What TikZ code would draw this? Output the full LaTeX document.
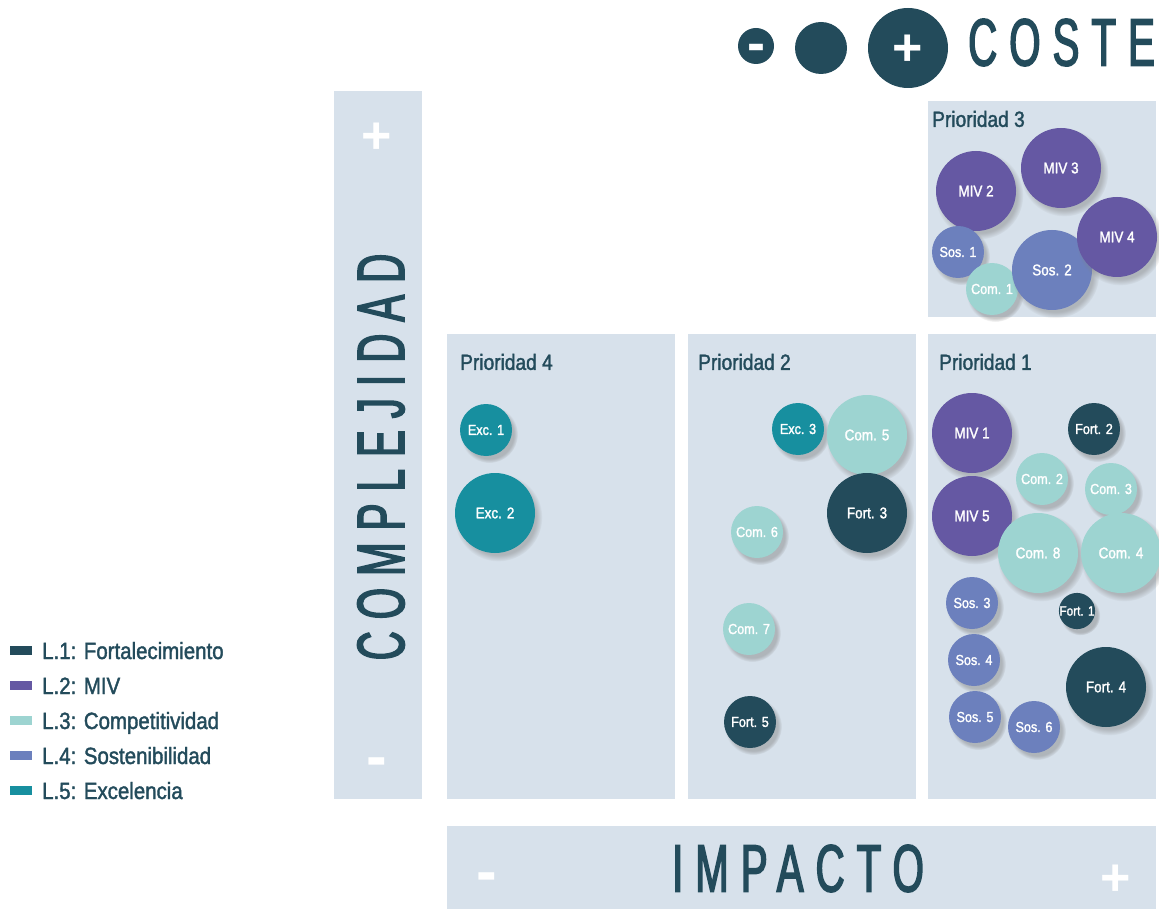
\documentclass[tikz,border=0pt]{standalone}
\usepackage{fontspec}
\setmainfont[FakeStretch=0.87, FakeBold=1.6]{Liberation Sans}
\newfontfamily\widefont[FakeStretch=0.6,LetterSpace=18,FakeBold=2.2]{Liberation Sans}
\newfontfamily\signfont{Liberation Sans Bold}
\usetikzlibrary{shadows}
\definecolor{cfort}{HTML}{234B5B}
\definecolor{cmiv}{HTML}{6558A3}
\definecolor{ccom}{HTML}{9DD4D1}
\definecolor{csos}{HTML}{6C80BD}
\definecolor{cexc}{HTML}{178F9F}
\definecolor{cpanel}{HTML}{D7E1EB}
\tikzset{
  panel/.style={fill=cpanel, draw=none},
  bub/.style={circle, inner sep=0pt, text=white, draw=none,
    circular drop shadow={shadow xshift=3pt, shadow yshift=-4pt, opacity=0.45}},
  big/.style={bub, minimum size=80pt, font=\fontsize{15.5}{15.5}\selectfont},
  mid/.style={bub, minimum size=52pt, font=\fontsize{14.5}{14.5}\selectfont},
  sml/.style={bub, minimum size=36pt, font=\fontsize{13.5}{13.5}\selectfont},
  plain/.style={circle, inner sep=0pt, draw=none, fill=cfort},
  fort/.style={fill=cfort}, miv/.style={fill=cmiv}, com/.style={fill=ccom},
  sos/.style={fill=csos}, exc/.style={fill=cexc},
  axislabel/.style={font=\widefont\fontsize{67}{67}\selectfont, text=cfort, inner sep=0pt},
  prio/.style={font=\fontsize{22}{22}\selectfont, text=cfort, inner sep=0pt, anchor=west},
  sign/.style={font=\signfont\fontsize{52}{52}\selectfont, text=white, inner sep=0pt},
  minus/.style={font=\signfont\fontsize{62}{62}\selectfont, text=white, inner sep=0pt},
  legtext/.style={font=\fontsize{23.5}{23.5}\selectfont, text=cfort, inner sep=0pt, anchor=base west},
  swatch/.style={minimum width=22pt, minimum height=9pt, inner sep=0pt, draw=none}
}
\begin{document}
\begin{tikzpicture}[x=1pt,y=-1pt]
\useasboundingbox (0,0) rectangle (1159,909);
% panels
\fill[panel] (334,91) rectangle (422,799);
\fill[panel] (447,334) rectangle (675,799);
\fill[panel] (688,334) rectangle (916,799);
\fill[panel] (928,334) rectangle (1156,799);
\fill[panel] (928,101) rectangle (1156,317);
\fill[panel] (447,826) rectangle (1156,909);
% axis labels
\node[axislabel, rotate=90] (complejidad) at (381,457) {COMPLEJIDAD};
\node[axislabel] (impacto) at (798,868.5) {IMPACTO};
\node[axislabel, anchor=west] (coste) at (968,42.5) {COSTE};
\node[sign] (cplus) at (377,138) {+};
\node[minus] (cminus) at (377,768) {-};
\node[minus] (iminus) at (487,883) {-};
\node[sign] (iplus) at (1116,880) {+};
% cost scale
\node[plain, minimum size=36pt] (c1) at (756,46) {};
\node[plain, minimum size=52pt] (c2) at (821,48) {};
\node[plain, minimum size=80pt] (c3) at (908,48) {};
\node[minus, font=\signfont\fontsize{54}{54}\selectfont] (c1s) at (756,53) {-};
\node[sign] (c3s) at (908,50) {+};
% priority labels
\node[prio] (p4) at (460,362) {Prioridad 4};
\node[prio] (p2) at (698,362) {Prioridad 2};
\node[prio] (p1) at (939,362) {Prioridad 1};
\node[prio] (p3) at (932,119) {Prioridad 3};
% Prioridad 3
\node[big, miv] (miv2) at (976,191) {MIV 2};
\node[big, miv] (miv3) at (1061,168) {MIV 3};
\node[mid, sos] (sos1) at (958,252) {Sos. 1};
\node[mid, com] (com1) at (992,289) {Com. 1};
\node[big, sos] (sos2) at (1052,270) {Sos. 2};
\node[big, miv] (miv4) at (1117,237) {MIV 4};
% Prioridad 1
\node[big, miv] (miv1) at (972,433) {MIV 1};
\node[mid, fort] (fort2) at (1094,429) {Fort. 2};
\node[mid, com] (com2) at (1042,479) {Com. 2};
\node[mid, com] (com3) at (1111,489) {Com. 3};
\node[big, miv] (miv5) at (972,516) {MIV 5};
\node[big, com] (com8) at (1038,553) {Com. 8};
\node[big, com] (com4) at (1121,553) {Com. 4};
\node[mid, sos] (sos3) at (972,603) {Sos. 3};
\node[sml, fort] (fort1) at (1077,611) {Fort. 1};
\node[mid, sos] (sos4) at (974,660) {Sos. 4};
\node[big, fort] (fort4) at (1106,687) {Fort. 4};
\node[mid, sos] (sos5) at (975,717) {Sos. 5};
\node[mid, sos] (sos6) at (1034,727) {Sos. 6};
% Prioridad 2
\node[mid, exc] (exc3) at (798,429) {Exc. 3};
\node[big, com] (com5) at (867,435) {Com. 5};
\node[big, fort] (fort3) at (867,513) {Fort. 3};
\node[mid, com] (com6) at (757,532) {Com. 6};
\node[mid, com] (com7) at (749,629) {Com. 7};
\node[mid, fort] (fort5) at (750,722) {Fort. 5};
% Prioridad 4
\node[mid, exc] (exc1) at (486,430) {Exc. 1};
\node[big, exc] (exc2) at (495,513) {Exc. 2};
% legend
\node[swatch, fill=cfort] (s1) at (21,650.5) {};
\node[swatch, fill=cmiv] (s2) at (21,685.5) {};
\node[swatch, fill=ccom] (s3) at (21,720.5) {};
\node[swatch, fill=csos] (s4) at (21,755.5) {};
\node[swatch, fill=cexc] (s5) at (21,790.5) {};
\node[legtext] (l1) at (42,659) {L.1: Fortalecimiento};
\node[legtext] (l2) at (42,694) {L.2: MIV};
\node[legtext] (l3) at (42,729) {L.3: Competitividad};
\node[legtext] (l4) at (42,764) {L.4: Sostenibilidad};
\node[legtext] (l5) at (42,799) {L.5: Excelencia};
\end{tikzpicture}
\end{document}
